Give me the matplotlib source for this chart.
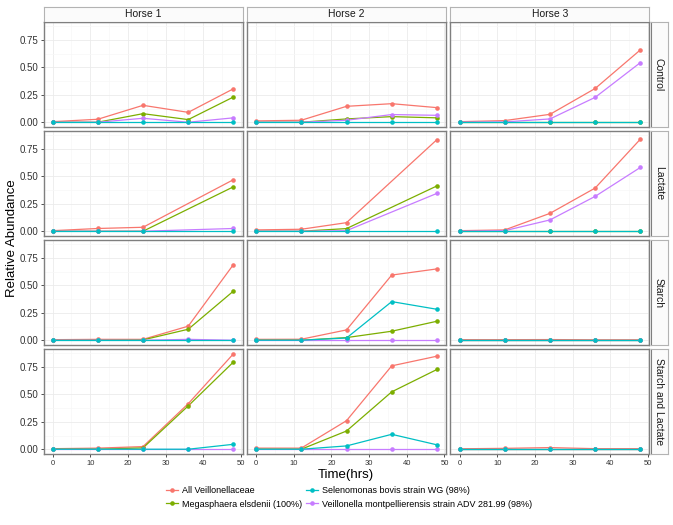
import numpy as np
import matplotlib
matplotlib.use("Agg")
import matplotlib.pyplot as plt
from matplotlib.lines import Line2D

plt.rcParams['font.family'] = ['Liberation Sans', 'DejaVu Sans']

hours = [0, 12, 24, 36, 48]
horses = ["Horse 1", "Horse 2", "Horse 3"]
treatments = ["Control", "Lactate", "Starch", "Starch and Lactate"]
series_names = ["All Veillonellaceae", "Megasphaera elsdenii (100%)",
                "Selenomonas bovis strain WG (98%)",
                "Veillonella montpellierensis strain ADV 281.99 (98%)"]
colors = ["#F8766D", "#7CAE00", "#00BFC4", "#C77CFF"]

nan = np.nan
# each series: rows = treatment, inner lists = horse 1..3, values at hours
all_veillonellaceae = [
    [[0.005, 0.027, 0.154, 0.090, 0.305], [0.012, 0.018, 0.145, 0.169, 0.133], [0.005, 0.015, 0.072, 0.308, 0.660]],
    [[0.005, 0.025, 0.036, nan, 0.470], [0.012, 0.018, 0.078, nan, 0.835], [0.005, 0.012, 0.163, 0.394, 0.840]],
    [[0.005, 0.008, 0.008, 0.128, 0.690], [0.008, 0.009, 0.094, 0.594, 0.650], [0.005, 0.005, 0.006, 0.004, 0.004]],
    [[0.005, 0.010, 0.024, 0.415, 0.870], [0.010, 0.010, 0.260, 0.760, 0.848], [0.004, 0.008, 0.015, 0.005, 0.005]],
]
megasphaera = [
    [[0.0, 0.0, 0.078, 0.024, 0.230], [0.0, 0.0, 0.030, 0.051, 0.040], [0.0, 0.0, 0.0, 0.0, 0.0]],
    [[0.0, 0.0, 0.0, nan, 0.405], [0.0, 0.0, 0.024, nan, 0.413], [0.0, 0.0, 0.0, 0.0, 0.0]],
    [[0.0, 0.0, 0.003, 0.100, 0.448], [0.0, 0.0, 0.024, 0.082, 0.173], [0.0, 0.0, 0.0, 0.0, 0.0]],
    [[0.0, 0.0, 0.012, 0.395, 0.795], [0.0, 0.0, 0.166, 0.523, 0.727], [0.0, 0.0, 0.0, 0.0, 0.0]],
]
selenomonas = [
    [[0.0, 0.0, 0.0, 0.0, 0.0], [0.0, 0.0, 0.0, 0.0, 0.0], [0.0, 0.0, 0.0, 0.0, 0.0]],
    [[0.0, 0.0, 0.0, nan, 0.0], [0.0, 0.0, 0.0, nan, 0.0], [0.0, 0.0, 0.0, 0.0, 0.0]],
    [[0.0, 0.0, 0.0, 0.0, 0.0], [0.0, 0.0, 0.020, 0.352, 0.282], [0.0, 0.0, 0.0, 0.0, 0.0]],
    [[0.0, 0.0, 0.0, 0.0, 0.045], [0.0, 0.0, 0.030, 0.136, 0.040], [0.0, 0.0, 0.0, 0.0, 0.0]],
]
veillonella = [
    [[0.0, 0.0, 0.036, 0.0, 0.040], [0.0, 0.0, 0.018, 0.070, 0.063], [0.0, 0.003, 0.030, 0.227, 0.544]],
    [[0.0, 0.0, 0.0, nan, 0.025], [0.0, 0.0, 0.005, nan, 0.345], [0.0, 0.005, 0.103, 0.318, 0.582]],
    [[0.0, 0.0, 0.0, 0.008, 0.0], [0.0, 0.0, 0.0, 0.0, 0.0], [0.0, 0.0, 0.0, 0.0, 0.0]],
    [[0.0, 0.0, 0.0, 0.0, 0.0], [0.0, 0.0, 0.0, 0.0, 0.0], [0.0, 0.0, 0.0, 0.0, 0.0]],
]
# drawing order: teal last so it sits on top at zero
all_series = [all_veillonellaceae, megasphaera, veillonella, selenomonas]
all_colors = [colors[0], colors[1], colors[3], colors[2]]

W, H = 673, 525
fig = plt.figure(figsize=(W / 100, H / 100), dpi=100)

def px(x0, y0, w, h):
    return [x0 / W, 1 - (y0 + h) / H, w / W, h / H]

col_left = [43.5, 247, 450.5]
panel_w = 199
row_top = [22, 131, 240, 349]
panel_h = 105

for r, treat in enumerate(treatments):
    for c, horse in enumerate(horses):
        ax = fig.add_axes(px(col_left[c], row_top[r], panel_w, panel_h))
        ax.set_xlim(-2.4, 50.4)
        ax.set_ylim(-0.0435, 0.9135)
        ax.set_xticks([0, 10, 20, 30, 40, 50])
        ax.set_xticks([5, 15, 25, 35, 45], minor=True)
        ax.set_yticks([0, 0.25, 0.5, 0.75])
        ax.set_yticks([0.125, 0.375, 0.625, 0.875], minor=True)
        ax.grid(which='major', color='#ebebeb', lw=0.6)
        ax.grid(which='minor', color='#f7f7f7', lw=0.5)
        ax.set_axisbelow(True)
        for s in ax.spines.values():
            s.set_color('#7f7f7f')
            s.set_linewidth(1.0)
        ax.tick_params(which='minor', length=0)
        ax.tick_params(which='major', length=2.5, width=0.6, color='#333333',
                       labelcolor='#333333', pad=1.5)
        if c == 0:
            ax.set_yticklabels(["0.00", "0.25", "0.50", "0.75"], fontsize=7)
        else:
            ax.tick_params(axis='y', length=0, labelleft=False)
        if r == 3:
            ax.set_xticklabels(["0", "10", "20", "30", "40", "50"], fontsize=5.5)
        else:
            ax.tick_params(axis='x', length=0, labelbottom=False)

        for ser, col in zip(all_series, all_colors):
            y = np.array(ser[r][c], dtype=float)
            x = np.array(hours, dtype=float)
            ok = ~np.isnan(y)
            ax.plot(x[ok], y[ok], color=col, lw=0.9, zorder=2)
        for ser, col in zip(all_series, all_colors):
            y = np.array(ser[r][c], dtype=float)
            x = np.array(hours, dtype=float)
            ok = ~np.isnan(y)
            ax.plot(x[ok], y[ok], 'o', color=col, ms=3.3, mew=0, zorder=3)

# top strips
for c, horse in enumerate(horses):
    sax = fig.add_axes(px(col_left[c], 6.5, panel_w, 15.5))
    sax.set_xticks([]); sax.set_yticks([])
    sax.set_facecolor('#fbfbfb')
    for s in sax.spines.values():
        s.set_color('#b3b3b3'); s.set_linewidth(0.8)
    sax.spines['bottom'].set_color('#7f7f7f')
    sax.text(0.5, 0.5, horse, ha='center', va='center', fontsize=7.5,
             color='#1a1a1a', transform=sax.transAxes)

# right strips
for r, treat in enumerate(treatments):
    sax = fig.add_axes(px(650.5, row_top[r], 17, panel_h))
    sax.set_xticks([]); sax.set_yticks([])
    sax.set_facecolor('#fbfbfb')
    for s in sax.spines.values():
        s.set_color('#b3b3b3'); s.set_linewidth(0.8)
    sax.spines['left'].set_color('#7f7f7f')
    sax.text(0.5, 0.5, treat, ha='center', va='center', fontsize=7.5,
             rotation=-90, color='#1a1a1a', transform=sax.transAxes)

fig.text(12 / W, 1 - 238 / H, "Relative Abundance", rotation=90,
         ha='center', va='center', fontsize=9.5)
fig.text(346 / W, 1 - 475 / H, "Time(hrs)", ha='center', va='center',
         fontsize=9.5)

handles = [Line2D([], [], color=col, lw=0.9, marker='o', ms=3.3, mew=0)
           for col in colors]
fig.legend(handles, series_names, loc='center', ncol=2,
           bbox_to_anchor=(349 / W, 1 - 497.5 / H), frameon=False,
           fontsize=6.5, handlelength=1.3, handletextpad=0.5,
           columnspacing=0.4, labelspacing=0.45)

fig.savefig("out.png", dpi=100)
